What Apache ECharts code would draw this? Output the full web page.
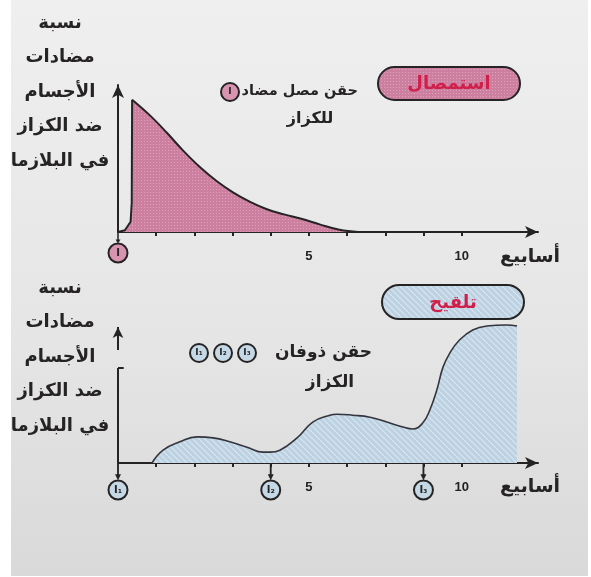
<!DOCTYPE html>
<html>
<head>
<meta charset="utf-8">
<script src="https://cdn.jsdelivr.net/npm/echarts@6/dist/echarts.min.js"></script>
<style>
  html, body { margin: 0; padding: 0; background: #fff; }
  #chart {
    width: 591px; height: 577px;
    background: linear-gradient(#efefef, #e5e5e5 60%, #d9d9d9) no-repeat;
    background-position: 11px 0;
    background-size: 577px 576px;
  }
</style>
</head>
<body>
<div id="chart"></div>
<script>
// weeks on the x axis (same scale for both panels)
const weekTicks = [1, 2, 3, 4, 5, 6, 7, 8, 9]
const labelWeeks = [5, 9]
const labelTexts = ['5', '10']

// top panel: serum injection (استمصال)
const serumRise = [[0, 0], [0.18, 0.12], [0.33, 0.7], [0.36, 2.0], [0.37, 9.0]]
const serumDecay = [
  [0.37, 9.0], [0.85, 7.9], [1.28, 6.75], [1.7, 5.55], [2.15, 4.4], [2.59, 3.45],
  [3.01, 2.7], [3.46, 2.05], [3.9, 1.55], [4.35, 1.2], [4.8, 0.9], [5.3, 0.5],
  [5.8, 0.15], [6.3, 0]
]
const serumWeeks = [0]
const serumLabels = ['I']

// bottom panel: vaccination (تلقيح)
const vaccineCurve = [
  [0.89, 0], [1.18, 1.3], [1.62, 2.15], [2.07, 2.65], [2.49, 2.55], [2.93, 2.15],
  [3.38, 1.6], [3.8, 1.1], [3.98, 1.1], [4.24, 1.3], [4.69, 2.55], [5.1, 4.15],
  [5.55, 4.85], [5.73, 4.95], [6.15, 4.85], [6.6, 4.65], [7.04, 4.15], [7.46, 3.65],
  [7.72, 3.45], [7.98, 4.05], [8.17, 5.4], [8.35, 7.4], [8.51, 9.7], [8.69, 11.15],
  [8.95, 12.5], [9.29, 13.5], [9.66, 13.9], [10.18, 14.0], [10.45, 13.9]
]
const boosterWeeks = [0, 4, 8]
const boosterLabels = ['I₁', 'I₂', 'I₃']

// broken y axis of the bottom panel
const lowerAxisTop = 9.64
const upperAxisStart = 11.46
const upperAxisEnd = 13.8

const ink = '#262324'
const arabic = '"DejaVu Sans", sans-serif'
const stemPath = 'path://M-0.8,0 L0.8,0 L0.8,7 L2.6,7 L0,11 L-2.6,7 L-0.8,7 Z'

function makePattern(bg, fg, kind) {
  let c = document.createElement('canvas')
  c.width = 6; c.height = 6
  let g = c.getContext('2d')
  g.fillStyle = bg
  g.fillRect(0, 0, 6, 6)
  g.fillStyle = fg
  g.strokeStyle = fg
  if (kind === 'dots') {
    g.fillRect(0, 0, 1, 1); g.fillRect(3, 3, 1, 1)
    g.fillRect(3, 0, 1, 1); g.fillRect(0, 3, 1, 1)
  } else {
    g.lineWidth = 1.2
    g.beginPath()
    g.moveTo(-1, -1); g.lineTo(7, 7)
    g.moveTo(-4, 2); g.lineTo(4, 10)
    g.moveTo(2, -4); g.lineTo(10, 4)
    g.stroke()
  }
  return { image: c, repeat: 'repeat' }
}
const pinkFill = makePattern('#cc7f9f', '#dfa2bb', 'dots')
const blueFill = makePattern('#bcd2e2', '#d9e6ef', 'lines')

function xAxisFor(gridIndex) {
  return {
    type: 'value', gridIndex: gridIndex, min: 0, max: 11,
    axisLine: { show: true, onZero: false, symbol: ['none', 'arrow'], symbolSize: [9, 13], lineStyle: { color: ink, width: 2 } },
    axisTick: { show: true, customValues: weekTicks, length: 4, inside: false, lineStyle: { color: ink, width: 2 } },
    axisLabel: {
      show: true, customValues: labelWeeks, margin: 18,
      formatter: v => labelTexts[labelWeeks.indexOf(v)],
      color: '#222', fontSize: 13, fontWeight: 'bold', fontFamily: '"Liberation Sans Narrow", "Liberation Sans", sans-serif'
    },
    splitLine: { show: false }
  }
}

// circled injection markers under the x axis, with a small arrow from the axis
function markerSeries(xi, yi, weeks, labels, fill, below) {
  return {
    type: 'scatter', xAxisIndex: xi, yAxisIndex: yi, clip: false, z: 5,
    data: weeks.map(w => [w, below]),
    symbol: 'circle', symbolSize: 19,
    itemStyle: { color: fill, borderColor: ink, borderWidth: 2, opacity: 1 },
    label: {
      show: true, position: 'inside', color: ink, fontSize: 10, fontWeight: 'bold',
      fontFamily: '"DejaVu Sans", sans-serif',
      formatter: p => labels[p.dataIndex]
    }
  }
}
function stemSeries(xi, yi, weeks, mid, size) {
  return {
    type: 'scatter', xAxisIndex: xi, yAxisIndex: yi, clip: false, z: 4, silent: true,
    data: weeks.map(w => [w, mid]),
    symbol: stemPath, symbolSize: size, symbolKeepAspect: false,
    itemStyle: { color: ink, opacity: 1 }
  }
}

function text(str, x, y, size, align) {
  return {
    type: 'text', z: 10,
    style: {
      text: str, x: x, y: y, fill: ink, align: align || 'center', verticalAlign: 'middle',
      font: 'bold ' + size + 'px ' + arabic
    }
  }
}

function yTitle(topY) {
  let lines = ['نسبة', 'مضادات', 'الأجسام', 'ضد الكزاز', 'في البلازما']
  return lines.map((l, i) => text(l, 60, topY + i * 34.5, 18))
}

function badge(x, y, w, h, fill, label) {
  let t = text(label, x + w / 2, y + h / 2 + 1, 18)
  t.style.fill = '#d11f4b'
  return [
    { type: 'rect', z: 9, shape: { x: x, y: y, width: w, height: h, r: h / 2 },
      style: { fill: fill, stroke: ink, lineWidth: 2 } },
    t
  ]
}

function circleMark(cx, cy, fill, label) {
  return [
    { type: 'circle', z: 9, shape: { cx: cx, cy: cy, r: 9 }, style: { fill: fill, stroke: ink, lineWidth: 2 } },
    { type: 'text', z: 10, style: { text: label, x: cx, y: cy, align: 'center', verticalAlign: 'middle', fill: ink, font: 'bold 9px ' + arabic } }
  ]
}

let myChart = echarts.init(document.getElementById('chart'))
myChart.setOption({
  animation: false,
  grid: [
    { left: 118, top: 85, width: 420, height: 147 },
    { left: 118, top: 325, width: 420, height: 138 }
  ],
  xAxis: [xAxisFor(0), xAxisFor(1)],
  yAxis: [
    {
      type: 'value', gridIndex: 0, min: 0, max: 10,
      axisLine: { show: true, onZero: false, symbol: ['none', 'arrow'], symbolSize: [9, 13], lineStyle: { color: ink, width: 2 } },
      axisTick: { show: false }, axisLabel: { show: false }, splitLine: { show: false }
    },
    {
      type: 'value', gridIndex: 1, min: 0, max: 14,
      axisLine: { show: false }, axisTick: { show: false }, axisLabel: { show: false }, splitLine: { show: false }
    }
  ],
  series: [
    {
      type: 'line', xAxisIndex: 0, yAxisIndex: 0, data: serumRise,
      smooth: false, showSymbol: false, z: 3,
      lineStyle: { color: ink, width: 2, join: 'round' },
      areaStyle: { color: pinkFill, opacity: 1 }
    },
    {
      type: 'line', xAxisIndex: 0, yAxisIndex: 0, data: serumDecay,
      smooth: 0.4, showSymbol: false, z: 3,
      lineStyle: { color: ink, width: 2 },
      areaStyle: { color: pinkFill, opacity: 1 }
    },
    {
      type: 'line', xAxisIndex: 1, yAxisIndex: 1, data: vaccineCurve,
      smooth: 0.45, showSymbol: false, z: 3, clip: false,
      lineStyle: { color: '#34353d', width: 1.6 },
      areaStyle: { color: blueFill, opacity: 1 },
      markLine: {
        silent: true, symbol: 'none', label: { show: false },
        lineStyle: { color: ink, width: 2, type: 'solid' },
        data: [
          [{ coord: [0, 0] }, { coord: [0, lowerAxisTop] }],
          [{ coord: [0, lowerAxisTop] }, { coord: [0.15, lowerAxisTop] }],
          [{ coord: [-0.12, upperAxisStart] }, { coord: [0, upperAxisStart] }],
          [{ coord: [0, upperAxisStart] }, { coord: [0, upperAxisEnd], symbol: 'arrow', symbolSize: [8, 11] }]
        ]
      }
    },
    stemSeries(0, 0, serumWeeks, -0.4, [5, 11]),
    stemSeries(1, 1, boosterWeeks, -0.9, [6, 17]),
    markerSeries(0, 0, serumWeeks, serumLabels, '#d894ae', -1.43),
    markerSeries(1, 1, boosterWeeks, boosterLabels, '#c4d8e6', -2.74)
  ],
  graphic: [].concat(
    yTitle(23),
    yTitle(288),
    badge(378, 67, 142, 33, pinkFill, 'استمصال'),
    badge(382, 285, 142, 34, blueFill, 'تلقيح'),
    [text('حقن مصل مضاد', 358, 91, 14.5, 'right'), text('للكزاز', 310, 119, 16)],
    circleMark(230, 92, '#d894ae', 'I'),
    [text('حقن ذوفان', 372, 353, 17, 'right'), text('الكزاز', 330, 383, 17)],
    circleMark(199, 353, '#c4d8e6', 'I₁'),
    circleMark(223, 353, '#c4d8e6', 'I₂'),
    circleMark(247, 353, '#c4d8e6', 'I₃'),
    [text('أسابيع', 530, 257, 19), text('أسابيع', 530, 487, 19)]
  )
})
</script>
</body>
</html>
